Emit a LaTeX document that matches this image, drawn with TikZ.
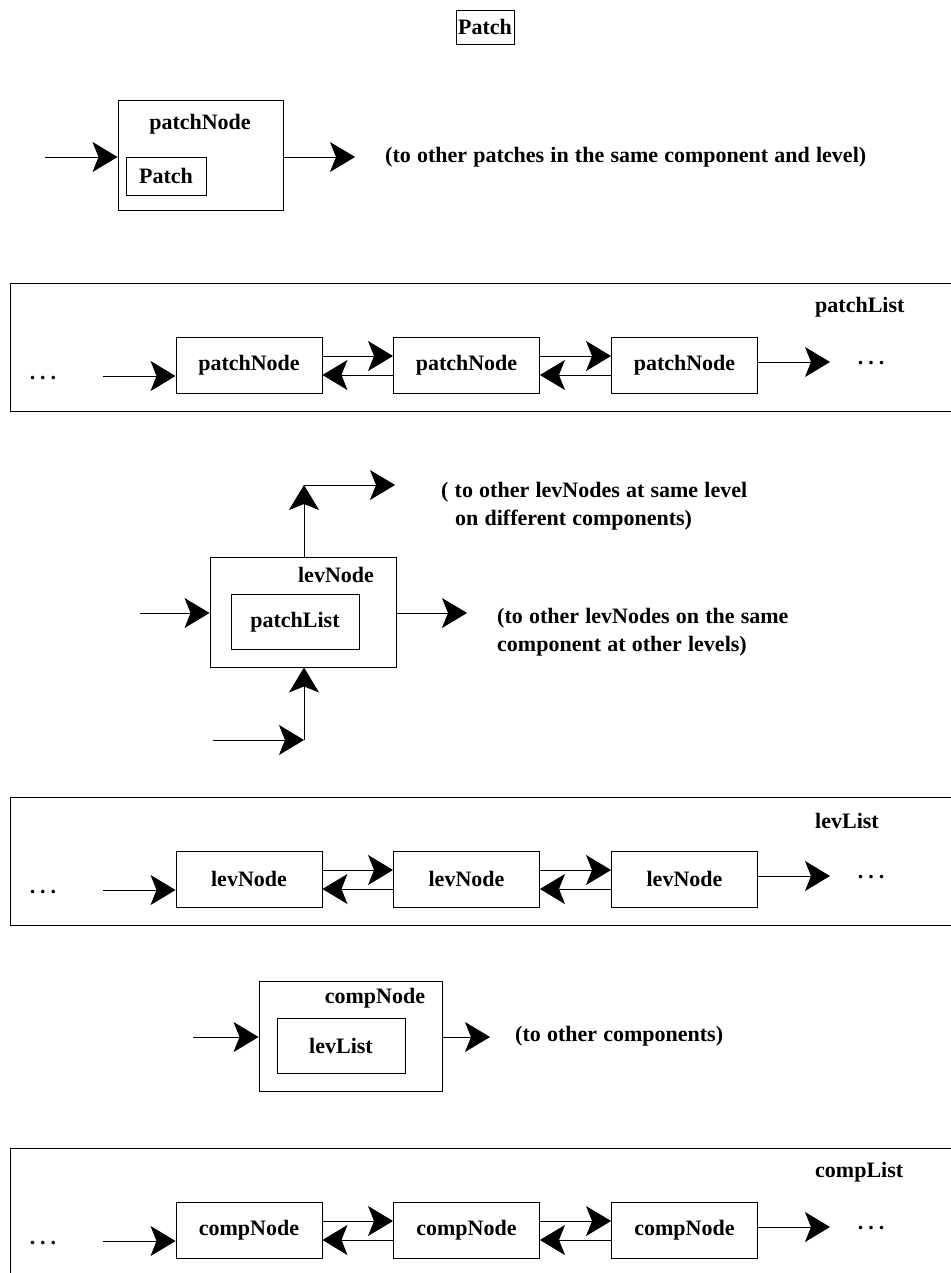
\documentclass[tikz,border=0pt]{standalone}
\usepackage{fontspec}
\setmainfont{Liberation Serif}
\usetikzlibrary{arrows.meta}
\tikzset{
  every node/.style={font=\fontsize{22}{28}\selectfont\bfseries},
  box/.style={draw, line width=0.9pt, inner sep=0pt},
  lbl/.style={inner sep=0pt},
  arr/.style={line width=0.9pt, -{Stealth[length=25pt,width=30pt,inset=6pt]}},
  ln/.style={line width=0.9pt}
}
\newcommand\mydots{.\hspace{5pt}.\hspace{5pt}.}
\newcommand\drawlist[4]{%
  \draw[ln] (955,#1) -- (10,#1) -- (10,{#1+128}) -- (955,{#1+128});
  \node[lbl, anchor=west] (#4lab) at (815,{#1+24}) {#2};
  \node[box, minimum width=146pt, minimum height=56pt] (#4a) at (249,{#1+82}) {#3};
  \node[box, minimum width=146pt, minimum height=56pt] (#4b) at (466.5,{#1+82}) {#3};
  \node[box, minimum width=146pt, minimum height=56pt] (#4c) at (684.5,{#1+82}) {#3};
  \node[lbl] (#4dl) at (43,{#1+95}) {\mydots};
  \node[lbl] (#4dr) at (871,{#1+80}) {\mydots};
  \coordinate (#4in) at (103,{#1+93});
  \draw[arr] (#4in) -- (#4in -| #4a.west);
  \coordinate (#4up) at (0,{#1+73});
  \coordinate (#4lo) at (0,{#1+92});
  \draw[arr] (#4up -| #4a.east) -- (#4up -| #4b.west);
  \draw[arr] (#4lo -| #4b.west) -- (#4lo -| #4a.east);
  \draw[arr] (#4up -| #4b.east) -- (#4up -| #4c.west);
  \draw[arr] (#4lo -| #4c.west) -- (#4lo -| #4b.east);
  \coordinate (#4out) at (830,{#1+79});
  \draw[arr] (#4out -| #4c.east) -- (#4out);
}
\begin{document}
\begin{tikzpicture}[x=1pt,y=-1pt]
\useasboundingbox (0,0) rectangle (950,1273);

% top Patch
\node[box, minimum width=58pt, minimum height=34pt] (top) at (485,27) {Patch};

% patchNode
\node[box, minimum width=165pt, minimum height=110pt] (pn) at (200.5,155) {};
\node[lbl] (pnl) at (200,124) {patchNode};
\node[box, minimum width=80pt, minimum height=38pt] (pnp) at (166,176) {Patch};
\coordinate (pnin) at (45,157);
\draw[arr] (pnin) -- (pnin -| pn.west);
\coordinate (pnout) at (355,157);
\draw[arr] (pnout -| pn.east) -- (pnout);
\node[lbl, anchor=west] (pntxt) at (385,157) {\fontdimen2\font=6.2pt (to other patches in the same component and level)};

% patchList
\drawlist{283}{patchList}{patchNode}{pl}

% levNode
\node[box, minimum width=186pt, minimum height=110pt] (lv) at (303,612) {};
\node[lbl] (lvl) at (336,575) {levNode};
\node[box, minimum width=128pt, minimum height=55pt] (lvp) at (295,622) {patchList};
\coordinate (lvup) at (304,485);
\coordinate (lvupr) at (395,485);
\draw[arr] (lvup |- lv.north) -- (lvup);
\draw[arr] (lvup) -- (lvupr);
\node[lbl, anchor=west, align=left] (lvtxt1) at (441,506) {( to other levNodes at same level\\\hspace*{14pt}on different components)};
\coordinate (lvin) at (140,613);
\draw[arr] (lvin) -- (lvin -| lv.west);
\coordinate (lvout) at (467,613);
\draw[arr] (lvout -| lv.east) -- (lvout);
\node[lbl, anchor=west, align=left] (lvtxt2) at (497,632) {(to other levNodes on the same\\component at other levels)};
\coordinate (lvb) at (304,740);
\coordinate (lvbl) at (213,740);
\draw[arr] (lvbl) -- (lvb);
\draw[arr] (lvb) -- (lvb |- lv.south);

% levList
\drawlist{797}{levList}{levNode}{ll}

% compNode
\node[box, minimum width=183pt, minimum height=110pt] (cn) at (350.5,1036) {};
\node[lbl] (cnl) at (375,998) {compNode};
\node[box, minimum width=128pt, minimum height=55pt] (cnp) at (341,1045.5) {levList};
\coordinate (cnin) at (193,1037);
\draw[arr] (cnin) -- (cnin -| cn.west);
\coordinate (cnout) at (490,1037);
\draw[arr] (cnout -| cn.east) -- (cnout);
\node[lbl, anchor=west] (cntxt) at (515,1036) {(to other components)};

% compList
\drawlist{1148}{compList}{compNode}{cl}
\end{tikzpicture}
\end{document}
